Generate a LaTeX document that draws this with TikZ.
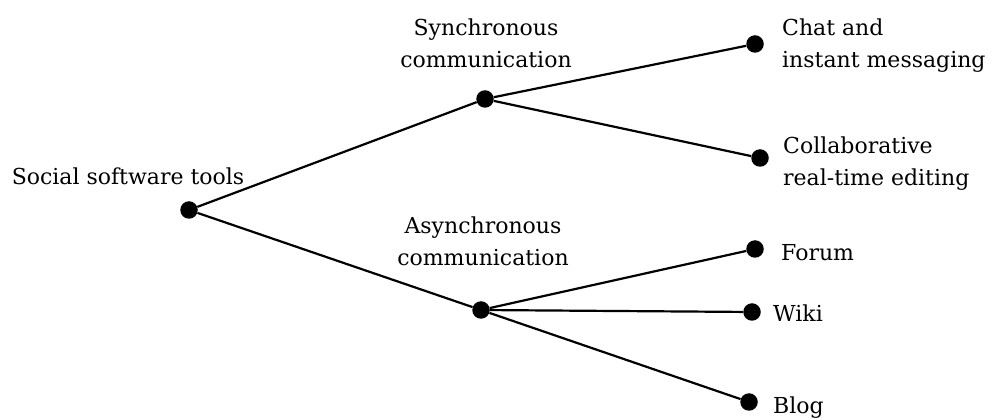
\documentclass[tikz,border=0pt]{standalone}
\usepackage{fontspec}
\setmainfont{DejaVu Serif}
\begin{document}
\begin{tikzpicture}[x=1pt,y=-1pt,
  dot/.style={circle,fill=black,inner sep=0pt,minimum size=17.5pt},
  edge/.style={line width=2.2pt},
  lbl/.style={font=\fontsize{22}{32}\selectfont,inner sep=0pt,align=center,anchor=base},
  lblw/.style={font=\fontsize{22}{32}\selectfont,inner sep=0pt,align=left,anchor=base west}]
\useasboundingbox (0,0) rectangle (994,419);
% tree nodes
\node[dot] (root)   at (189,210) {};
\node[dot] (sync)   at (485,99)  {};
\node[dot] (async)  at (481,310) {};
\node[dot] (chat)   at (755,44)  {};
\node[dot] (collab) at (760,158) {};
\node[dot] (forum)  at (755,249) {};
\node[dot] (wiki)   at (752,312) {};
\node[dot] (blog)   at (749,402) {};
% branches
\draw[edge] (root) -- (sync);
\draw[edge] (root) -- (async);
\draw[edge] (sync) -- (chat);
\draw[edge] (sync) -- (collab);
\draw[edge] (async) -- (forum);
\draw[edge] (async) -- (wiki);
\draw[edge] (async) -- (blog);
% labels (multi-line labels are placed by the baseline of their last line)
\node[lbl] (lroot) at (128,185) {Social software tools};
\node[lbl] (lsync) at (486,68) {Synchronous\\communication};
\node[lbl] (lasync) at (483,266) {Asynchronous\\communication};
\node[lblw] (lchat) at (782,68) {Chat and\\instant messaging};
\node[lblw] (lcollab) at (783,186) {Collaborative\\real-time editing};
\node[lblw] (lforum) at (781,261) {Forum};
\node[lblw] (lwiki) at (773,322) {Wiki};
\node[lblw] (lblog) at (773,414) {Blog};
\end{tikzpicture}
\end{document}
